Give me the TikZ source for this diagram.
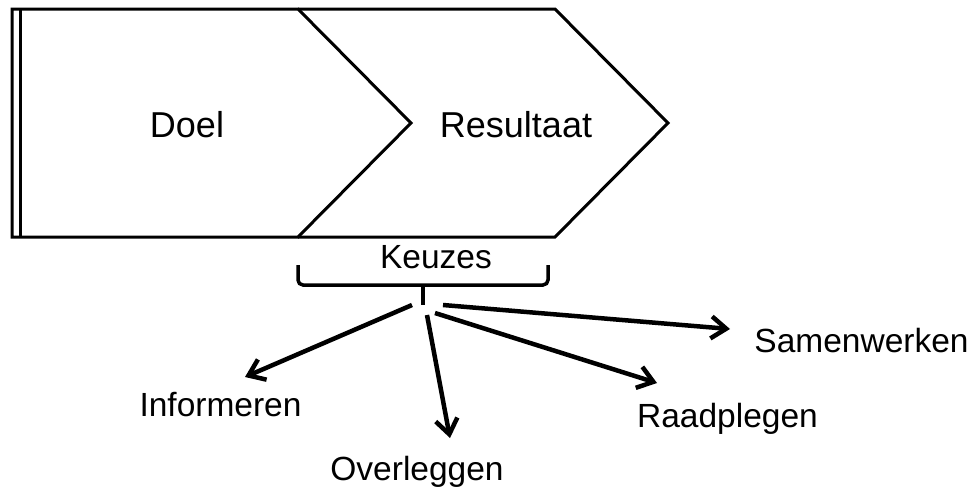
\documentclass[tikz,border=0pt]{standalone}
\usepackage{fontspec}
\setmainfont{Liberation Sans}
\usetikzlibrary{arrows.meta}
\tikzset{
  shapeline/.style={line width=3pt, line join=miter},
  bigtext/.style={anchor=base, inner sep=0pt, font=\fontsize{36}{42}\selectfont},
  lbltext/.style={anchor=base, inner sep=0pt, font=\fontsize{33.5}{40}\selectfont},
  conn/.style={line width=4.5pt, -{Straight Barb[length=15pt,width=22pt]}},
  bracebox/.style={line width=3.5pt, rounded corners=5pt}
}
\begin{document}
\begin{tikzpicture}[x=1pt,y=-1pt]
\useasboundingbox (0,0) rectangle (976,488);
% Doel pentagon
\draw[shapeline] (12,9) -- (298,9) -- (411,123) -- (298,237) -- (12,237) -- cycle;
\draw[shapeline] (20,9) -- (20,237);
% Resultaat chevron
\draw[shapeline] (298,9) -- (555,9) -- (668,123) -- (555,237) -- (298,237);
\node[bigtext] (doel) at (187,137) {Doel};
\node[bigtext] (res) at (516,137) {Resultaat};
% brace
\draw[bracebox] (298,265) -- (298,285) -- (548,285) -- (548,265);
\draw[line width=3.5pt] (423,285) -- (423,305);
\node[lbltext] (keuzes) at (436,268) {Keuzes};
% start points
\coordinate (s1) at (412,305);
\coordinate (s2) at (427,315);
\coordinate (s3) at (435,313);
\coordinate (s4) at (443,305);
\coordinate (e1) at (245,377);
\coordinate (e2) at (450,438);
\coordinate (e3) at (657,383);
\coordinate (e4) at (730,329);
\node[lbltext] (inf) at (220.5,416) {Informeren};
\node[lbltext] (ovl) at (417,480) {Overleggen};
\node[lbltext] (raad) at (727.5,427) {Raadplegen};
\node[lbltext] (sam) at (861.5,352) {Samenwerken};
\draw[conn] (s1) -- (e1);
\draw[conn] (s2) -- (e2);
\draw[conn] (s3) -- (e3);
\draw[conn] (s4) -- (e4);
\end{tikzpicture}
\end{document}
